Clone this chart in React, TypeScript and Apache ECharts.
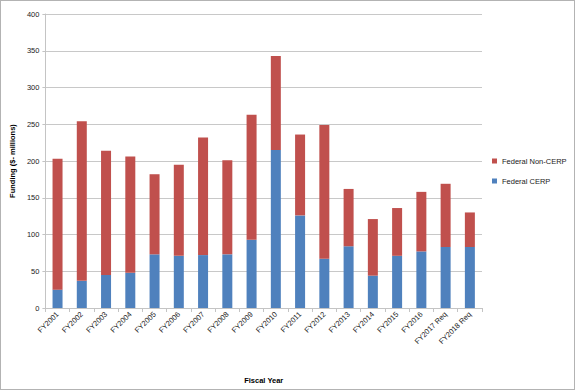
import React, { useEffect, useRef } from "react";
import * as echarts from "echarts";

const categories = [
  "FY2001", "FY2002", "FY2003", "FY2004", "FY2005", "FY2006", "FY2007", "FY2008", "FY2009",
  "FY2010", "FY2011", "FY2012", "FY2013", "FY2014", "FY2015", "FY2016", "FY2017 Req", "FY2018 Req",
];
const federalCERP = [25, 37, 45, 48, 73, 71, 72, 73, 93, 215, 126, 67, 84, 44, 71, 77, 83, 83];
const federalNonCERP = [178, 217, 169, 158, 109, 124, 160, 128, 170, 128, 110, 182, 78, 77, 65, 81, 86, 47];
const yTicks = { min: 0, max: 400, interval: 50 };

const FONT = "'Liberation Sans', Arial, sans-serif";

export default function App() {
  const ref = useRef<HTMLDivElement>(null);
  useEffect(() => {
    if (!ref.current) return;
    const chart = echarts.init(ref.current, undefined, { renderer: "svg" });
    chart.setOption({
      animation: false,
      backgroundColor: "#ffffff",
      textStyle: { fontFamily: FONT },
      grid: { left: 43, right: 93, top: 14, bottom: 83, containLabel: false },
      legend: {
        orient: "vertical",
        left: 487,
        top: 152,
        itemWidth: 5,
        itemHeight: 5,
        itemGap: 12,
        icon: "rect",
        data: ["Federal Non-CERP", "Federal CERP"],
        textStyle: { fontSize: 7.5, color: "#222", fontFamily: FONT },
      },
      xAxis: {
        type: "category",
        data: categories,
        name: "Fiscal Year",
        nameLocation: "middle",
        nameGap: 68,
        nameTextStyle: { fontSize: 7.5, fontWeight: "bold", color: "#000", fontFamily: FONT },
        axisLine: { lineStyle: { color: "#c4c4c4", width: 1 } },
        axisTick: { show: true, alignWithLabel: false, length: 4, lineStyle: { color: "#c4c4c4" } },
        axisLabel: { rotate: 45, fontSize: 7.5, color: "#222", margin: 5, interval: 0, fontFamily: FONT },
      },
      yAxis: {
        type: "value",
        min: yTicks.min,
        max: yTicks.max,
        interval: yTicks.interval,
        name: "Funding ($- millions)",
        nameLocation: "middle",
        nameRotate: 90,
        nameGap: 26,
        nameTextStyle: { fontSize: 7.5, fontWeight: "bold", color: "#000", fontFamily: FONT },
        axisLine: { show: true, lineStyle: { color: "#c4c4c4", width: 1 } },
        axisTick: { show: true, length: 3, lineStyle: { color: "#c4c4c4" } },
        axisLabel: { fontSize: 7.5, color: "#222", margin: 6, fontFamily: FONT },
        splitLine: { lineStyle: { color: "#c8c8c8", width: 1 } },
      },
      series: [
        {
          name: "Federal CERP",
          type: "bar",
          stack: "total",
          data: federalCERP,
          barWidth: 10,
          itemStyle: { color: "#4F81BD" },
        },
        {
          name: "Federal Non-CERP",
          type: "bar",
          stack: "total",
          data: federalNonCERP,
          barWidth: 10,
          itemStyle: { color: "#C0504D" },
        },
      ],
    });
    return () => chart.dispose();
  }, []);
  return (
    <div
      style={{
        position: "fixed",
        left: 0,
        top: 0,
        width: 575,
        height: 391,
        background: "#fff",
      }}
    >
      <div
        ref={ref}
        style={{
          position: "absolute",
          left: 0,
          top: 0,
          width: 575,
          height: 391,
        }}
      />
      <div
        style={{
          position: "absolute",
          left: 0,
          top: 0,
          width: 573,
          height: 388,
          border: "1px solid #b3b3b3",
          pointerEvents: "none",
        }}
      />
    </div>
  );
}
